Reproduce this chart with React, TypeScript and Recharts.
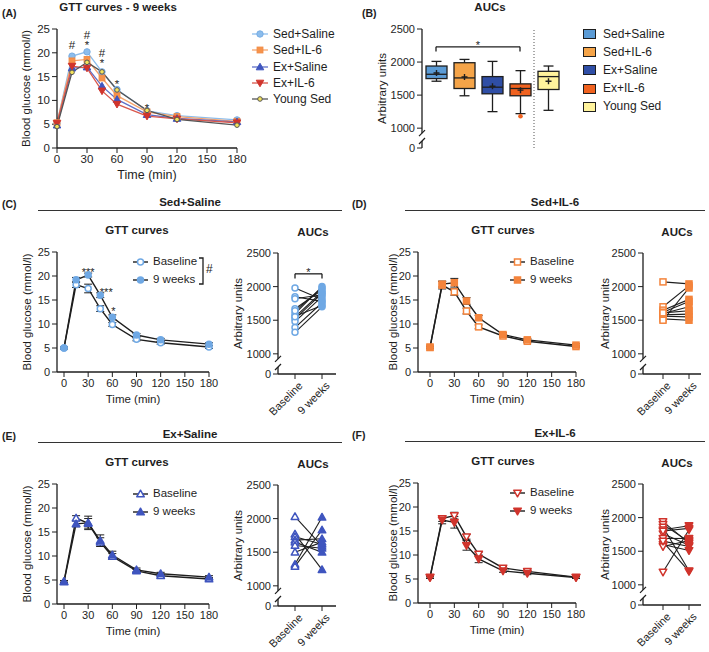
import React from 'react';
import { LineChart, Line, XAxis, YAxis, ComposedChart, Bar, ErrorBar, ReferenceLine, ReferenceDot } from 'recharts';

const FONT = '"Liberation Sans", Arial, Helvetica, sans-serif';
const INK = '#1e1e1e';
const AUC_FLOOR = 700; // value that sits on the "0" tick below the axis break

const TIMES = [0, 15, 30, 45, 60, 90, 120, 180];
const TIME_TICKS = [0, 30, 60, 90, 120, 150, 180];
const GLUCOSE_TICKS = [0, 5, 10, 15, 20, 25];
const AUC_TICKS = [AUC_FLOOR, 1000, 1500, 2000, 2500];
const PAIR_CATS = ['Baseline', '9 weeks'];

// (A) GTT curves after 9 weeks
const A_SED_SALINE = [5.2, 19.3, 20.2, 16.0, 12.3, 7.8, 6.8, 5.9];
const A_SED_IL6 = [5.3, 18.3, 18.6, 14.7, 11.0, 7.6, 6.6, 5.6];
const A_EX_SALINE = [4.8, 16.8, 17.0, 13.0, 10.2, 7.0, 6.2, 5.5];
const A_EX_IL6 = [5.2, 17.2, 16.8, 12.0, 9.2, 6.7, 6.1, 5.3];
const A_YOUNG_SED = [4.5, 15.9, 18.0, 16.0, 12.2, 7.9, 6.0, 4.8];
const A_MARKS = [
  { t: 15, y: 21.6, text: ['#'], dx: 0 },
  { t: 30, y: 22.9, text: ['#', '*'], dx: 0 },
  { t: 45, y: 19.1, text: ['#', '*'], dx: 0 },
  { t: 60, y: 13.9, text: ['*'], dx: 0 },
  { t: 90, y: 8.8, text: ['*'], dx: 0 },
];

// (B) AUC box plots
const B_GROUPS = ['Sed+Saline', 'Sed+IL-6', 'Ex+Saline', 'Ex+IL-6', 'Young Sed'];
const B_MIN = [1710, 1490, 1250, 1220, 1270];
const B_Q1 = [1750, 1600, 1520, 1490, 1585];
const B_MEDIAN = [1815, 1760, 1620, 1600, 1780];
const B_Q3 = [1940, 1990, 1780, 1670, 1860];
const B_MAX = [2010, 2040, 2010, 1870, 1940];
const B_MEAN = [1835, 1775, 1635, 1575, 1710];
const B_OUTLIER = [null, null, null, 1180, null];
const B_COLORS = ['#5b9bd5', '#f5a448', '#2f4ea6', '#f0621f', '#fff39c'];

// (C) Sed+Saline
const C_BASE = [5.0, 18.2, 17.4, 13.2, 9.9, 6.8, 6.1, 5.2];
const C_WK9 = [5.0, 19.2, 20.2, 16.0, 11.4, 7.7, 6.7, 5.8];
const C_BASE_ERR = [0.2, 0.6, 0.9, 0.6, 0.4, 0.3, 0.3, 0.3];
const C_WK9_ERR = [0.2, 0.5, 0.4, 0.5, 0.5, 0.3, 0.3, 0.3];
const C_AUC_BASE = [1980, 1850, 1820, 1670, 1600, 1560, 1520, 1480, 1390, 1320, 1640, 1550];
const C_AUC_WK9 = [1810, 1780, 1880, 1950, 2000, 1720, 1900, 1850, 1760, 1700, 1980, 1920];
const C_MARKS = [
  { t: 30, y: 21.3, text: ['***'], dx: 0 },
  { t: 45, y: 17.1, text: ['***'], dx: 6 },
  { t: 60, y: 13.1, text: ['*'], dx: 1 },
];

// (D) Sed+IL-6
const D_BASE = [5.1, 18.1, 16.7, 12.7, 9.4, 7.5, 6.4, 5.3];
const D_WK9 = [5.2, 18.3, 18.6, 14.8, 11.3, 7.8, 6.7, 5.6];
const D_BASE_ERR = [0.2, 0.8, 0.7, 0.6, 0.4, 0.3, 0.3, 0.2];
const D_WK9_ERR = [0.2, 0.6, 0.9, 0.7, 0.5, 0.4, 0.3, 0.3];
const D_AUC_BASE = [2070, 1700, 1650, 1620, 1600, 1580, 1560, 1520, 1500, 1610];
const D_AUC_WK9 = [2040, 2010, 1810, 1780, 1700, 1590, 1550, 1500, 1980, 1640];

// (E) Ex+Saline
const E_BASE = [4.7, 17.9, 16.8, 12.9, 9.9, 6.9, 5.9, 5.2];
const E_WK9 = [4.6, 16.7, 16.9, 13.2, 10.2, 7.1, 6.3, 5.6];
const E_BASE_ERR = [0.2, 0.5, 1.0, 0.9, 0.6, 0.3, 0.3, 0.3];
const E_WK9_ERR = [0.2, 0.6, 1.4, 1.2, 0.8, 0.4, 0.3, 0.3];
const E_AUC_BASE = [2030, 1770, 1730, 1680, 1650, 1600, 1500, 1320, 1290];
const E_AUC_WK9 = [1590, 1240, 1620, 1700, 1500, 1560, 1650, 2020, 1830];

// (F) Ex+IL-6
const F_BASE = [5.4, 17.6, 18.2, 13.8, 10.2, 7.3, 6.6, 5.4];
const F_WK9 = [5.3, 17.3, 16.8, 12.0, 9.2, 6.7, 6.2, 5.3];
const F_BASE_ERR = [0.2, 0.6, 0.7, 0.5, 0.4, 0.3, 0.3, 0.2];
const F_WK9_ERR = [0.2, 0.8, 1.2, 1.0, 0.8, 0.3, 0.3, 0.2];
const F_AUC_BASE = [1940, 1900, 1860, 1820, 1760, 1690, 1640, 1600, 1570, 1190, 1650, 1800];
const F_AUC_WK9 = [1620, 1640, 1210, 1880, 1590, 1690, 1200, 1510, 1660, 1820, 1570, 1840];

const TICK = { fontSize: 11, fill: INK };

function Marker({ kind, cx, cy, r, fill, stroke, sw = 1.2 }: any) {
  if (cx == null || cy == null) return null;
  if (kind === 'square') {
    return <rect x={cx - r} y={cy - r} width={2 * r} height={2 * r} fill={fill} stroke={stroke} strokeWidth={sw} />;
  }
  if (kind === 'triangle' || kind === 'down') {
    const h = r * 1.3;
    const s = kind === 'down' ? -1 : 1;
    const pts = `${cx},${cy - s * h} ${cx + h},${cy + s * h * 0.75} ${cx - h},${cy + s * h * 0.75}`;
    return <polygon points={pts} fill={fill} stroke={stroke} strokeWidth={sw} strokeLinejoin="round" />;
  }
  return <circle cx={cx} cy={cy} r={r} fill={fill} stroke={stroke} strokeWidth={sw} />;
}

function Txt({ x, y, children, size = 11, bold = false, anchor = 'middle' }: any) {
  return (
    <div
      style={{
        position: 'absolute', left: x, top: y, whiteSpace: 'nowrap', fontSize: size, lineHeight: 1,
        fontWeight: bold ? 'bold' : 'normal',
        transform: anchor === 'middle' ? 'translate(-50%, -50%)' : 'translate(0, -50%)',
      }}
    >
      {children}
    </div>
  );
}

// significance marks, stacked lines share one text element
const markShape = (lines: string[], dx = 0, size = 11, gap = 8.5) => (p: any) => (
  <text x={p.cx + dx} y={p.cy} textAnchor="middle" fontSize={size} fill={INK}>
    {lines.map((s, i) => (
      <tspan key={i} x={p.cx + dx} y={p.cy + (i - (lines.length - 1) / 2) * gap + (s.startsWith('*') ? 6 : 4)}>
        {s}
      </tspan>
    ))}
  </text>
);

// axis break drawn over the left axis of the AUC plots
function AxisBreak({ x, y1000, y0 }: any) {
  const a = y1000 + 5;
  const b = y0 - 7;
  return (
    <g>
      <rect x={x - 3} y={a} width={6} height={b - a} fill="#fff" />
      <line x1={x - 3} y1={a + 3} x2={x + 3} y2={a - 3} stroke={INK} strokeWidth={1.2} />
      <line x1={x - 3} y1={b + 3} x2={x + 3} y2={b - 3} stroke={INK} strokeWidth={1.2} />
    </g>
  );
}

const SERIES_A = [
  { key: 'ss', name: 'Sed+Saline', line: '#8cbdec', fill: '#8cbdec', stroke: '#78ade4', kind: 'circle', r: 3.2 },
  { key: 'sil', name: 'Sed+IL-6', line: '#f6a46c', fill: '#f7924a', stroke: '#f08a44', kind: 'square', r: 2.9 },
  { key: 'exs', name: 'Ex+Saline', line: '#5f70c8', fill: '#3f55bf', stroke: '#3f55bf', kind: 'triangle', r: 2.9 },
  { key: 'exil', name: 'Ex+IL-6', line: '#d9574c', fill: '#d0342c', stroke: '#d0342c', kind: 'down', r: 2.9 },
  { key: 'young', name: 'Young Sed', line: '#555555', fill: '#f4e35a', stroke: '#555555', kind: 'circle', r: 2.3 },
];

function PanelA() {
  const data = TIMES.map((t, i) => ({
    t, ss: A_SED_SALINE[i], sil: A_SED_IL6[i], exs: A_EX_SALINE[i], exil: A_EX_IL6[i], young: A_YOUNG_SED[i],
  }));
  return (
    <>
      <Txt x={2} y={13} bold size={10.5} anchor="start">(A)</Txt>
      <Txt x={118} y={8} bold size={11.5}>GTT curves - 9 weeks</Txt>
      <div style={{ position: 'absolute', left: 0, top: 0 }}>
        <LineChart width={250} height={190} data={data} margin={{ top: 29, right: 13, bottom: 11, left: 0 }}>
          <XAxis
            dataKey="t" type="number" domain={[0, 180]} ticks={TIME_TICKS} interval={0} height={31}
            tickSize={5} stroke={INK} axisLine={{ strokeWidth: 1.3 }} tick={{ fontSize: 11.5, fill: INK }}
            label={{ value: 'Time (min)', position: 'insideBottom', offset: 0, fontSize: 12.5, fill: INK }}
          />
          <YAxis
            type="number" domain={[0, 25]} ticks={GLUCOSE_TICKS} interval={0} width={57}
            tickSize={5} stroke={INK} axisLine={{ strokeWidth: 1.3 }} tick={{ fontSize: 11.5, fill: INK }}
            label={{ value: 'Blood glucose (mmol/l)', angle: -90, position: 'insideLeft', offset: 26, style: { textAnchor: 'middle' }, fontSize: 11.5, fill: INK }}
          />
          {SERIES_A.map((s) => (
            <Line
              key={s.key} dataKey={s.key} stroke={s.line} strokeWidth={1.3} isAnimationActive={false}
              dot={(p: any) => <Marker key={`${s.key}-${p.index}`} kind={s.kind} cx={p.cx} cy={p.cy} r={s.r} fill={s.fill} stroke={s.stroke} sw={1} />}
            />
          ))}
          {A_MARKS.map((m, i) => (
            <ReferenceDot key={`am${i}`} x={m.t} y={m.y} r={0} shape={markShape(m.text, m.dx, 11.5, 8.5)} />
          ))}
        </LineChart>
      </div>
      {SERIES_A.map((s, i) => {
        const y = 34 + i * 16.3;
        return (
          <React.Fragment key={s.key}>
            <svg style={{ position: 'absolute', left: 252, top: y - 5 }} width={16} height={10}>
              <line x1={0} x2={16} y1={5} y2={5} stroke={s.line} strokeWidth={1.3} />
              <Marker kind={s.kind} cx={8} cy={5} r={s.r} fill={s.fill} stroke={s.stroke} sw={1} />
            </svg>
            <Txt x={273} y={y} size={12} anchor="start">{s.name}</Txt>
          </React.Fragment>
        );
      })}
    </>
  );
}

function BoxShape(props: any) {
  const { x, y, width, height, payload } = props;
  if (x == null || payload == null) return null;
  const top = Math.min(y, y + height);
  const bot = Math.max(y, y + height);
  const span = payload.max - payload.min;
  const py = (v: number) => top + ((payload.max - v) / span) * (bot - top);
  const cx = x + width / 2;
  const color = B_COLORS[B_GROUPS.indexOf(payload.group)];
  const m = py(payload.mean);
  return (
    <g>
      <line x1={cx} x2={cx} y1={py(payload.max)} y2={py(payload.q3)} stroke={INK} strokeWidth={1.3} />
      <line x1={cx} x2={cx} y1={py(payload.q1)} y2={py(payload.min)} stroke={INK} strokeWidth={1.3} />
      <line x1={cx - 5} x2={cx + 5} y1={py(payload.max)} y2={py(payload.max)} stroke={INK} strokeWidth={1.3} />
      <line x1={cx - 5} x2={cx + 5} y1={py(payload.min)} y2={py(payload.min)} stroke={INK} strokeWidth={1.3} />
      <rect x={x} y={py(payload.q3)} width={width} height={py(payload.q1) - py(payload.q3)} fill={color} stroke={INK} strokeWidth={1.3} />
      <line x1={x} x2={x + width} y1={py(payload.median)} y2={py(payload.median)} stroke={INK} strokeWidth={1.3} />
      <path d={`M${cx - 3},${m} H${cx + 3} M${cx},${m - 3} V${m + 3}`} stroke={INK} strokeWidth={1.4} />
      {payload.outlier != null && <circle cx={cx} cy={py(payload.outlier)} r={2.3} fill={color} />}
    </g>
  );
}

function PanelB() {
  const data = B_GROUPS.map((g, i) => ({
    group: g, min: B_MIN[i], q1: B_Q1[i], median: B_MEDIAN[i], q3: B_Q3[i], max: B_MAX[i],
    mean: B_MEAN[i], outlier: B_OUTLIER[i], range: [B_MIN[i], B_MAX[i]],
  }));
  return (
    <>
      <Txt x={362} y={13} bold size={10.5} anchor="start">(B)</Txt>
      <Txt x={490} y={8} bold size={11.5}>AUCs</Txt>
      <div style={{ position: 'absolute', left: 350, top: 0 }}>
        <ComposedChart width={225} height={160} data={data} margin={{ top: 29, right: 13, bottom: 12, left: 0 }}>
          <XAxis dataKey="group" type="category" scale="band" hide />
          <YAxis
            type="number" domain={[AUC_FLOOR, 2500]} allowDataOverflow ticks={AUC_TICKS} interval={0} width={72}
            tickSize={5} stroke={INK} axisLine={{ strokeWidth: 1.3 }} tick={TICK}
            tickFormatter={(v: number) => (v === AUC_FLOOR ? '0' : String(v))}
            label={{ value: 'Arbitrary units', angle: -90, position: 'insideLeft', offset: 32, style: { textAnchor: 'middle' }, fontSize: 11.5, fill: INK }}
          />
          <ReferenceLine x="Ex+IL-6" position="end" stroke="#555" strokeDasharray="1 2" />
          <Bar dataKey="range" barSize={21} shape={BoxShape} isAnimationActive={false} />
          <ReferenceLine
            segment={[{ x: 'Sed+Saline', y: 2230 }, { x: 'Ex+IL-6', y: 2230 }]} stroke={INK} strokeWidth={1.3}
            label={{ value: '*', position: 'top', offset: -2, fontSize: 11, fill: INK }}
          />
          <ReferenceLine segment={[{ x: 'Sed+Saline', y: 2230 }, { x: 'Sed+Saline', y: 2160 }]} stroke={INK} strokeWidth={1.3} />
          <ReferenceLine segment={[{ x: 'Ex+IL-6', y: 2230 }, { x: 'Ex+IL-6', y: 2160 }]} stroke={INK} strokeWidth={1.3} />
        </ComposedChart>
      </div>
      <svg style={{ position: 'absolute', left: 0, top: 0 }} width={709} height={200}>
        <AxisBreak x={422} y1000={29 + (1500 / 1800) * 119} y0={148} />
      </svg>
      {B_GROUPS.map((g, i) => {
        const y = 33.5 + i * 18.2;
        return (
          <React.Fragment key={g}>
            <div style={{ position: 'absolute', left: 583, top: y - 4.5, width: 11, height: 8, background: B_COLORS[i], border: `1px solid ${INK}` }} />
            <Txt x={603} y={y} size={12} anchor="start">{g}</Txt>
          </React.Fragment>
        );
      })}
    </>
  );
}

const GEO_LEFT = {
  axisX: 57, zeroX: 64, x180: 209, yLabelX: 27, titleX: 137,
  aucAxis: 278, cat1: 295, cat2: 322, aucLabelX: 238, aucTitleX: 313,
  lineX1: 38, lineX2: 342, headX: 190, legX: 133, legTextX: 153,
};
const GEO_RIGHT = {
  axisX: 68, zeroX: 80, x180: 226, yLabelX: 43, titleX: 153,
  aucAxis: 293, cat1: 313, cat2: 339, aucLabelX: 255, aucTitleX: 327,
  lineX1: 55, lineX2: 355, headX: 205, legX: 160, legTextX: 180,
};

const PAIR_PANELS = [
  { letter: 'C', name: 'Sed+Saline', ox: 0, oy: 200, geo: GEO_LEFT, color: '#6fa8e4', kind: 'circle', r: 3,
    base: C_BASE, wk9: C_WK9, baseErr: C_BASE_ERR, wk9Err: C_WK9_ERR, aucBase: C_AUC_BASE, aucWk9: C_AUC_WK9, marks: C_MARKS, sig: true },
  { letter: 'D', name: 'Sed+IL-6', ox: 350, oy: 200, geo: GEO_RIGHT, color: '#f4843c', kind: 'square', r: 3,
    base: D_BASE, wk9: D_WK9, baseErr: D_BASE_ERR, wk9Err: D_WK9_ERR, aucBase: D_AUC_BASE, aucWk9: D_AUC_WK9, marks: [], sig: false },
  { letter: 'E', name: 'Ex+Saline', ox: 0, oy: 432, geo: GEO_LEFT, color: '#3f55bf', kind: 'triangle', r: 2.9,
    base: E_BASE, wk9: E_WK9, baseErr: E_BASE_ERR, wk9Err: E_WK9_ERR, aucBase: E_AUC_BASE, aucWk9: E_AUC_WK9, marks: [], sig: false },
  { letter: 'F', name: 'Ex+IL-6', ox: 350, oy: 431, geo: GEO_RIGHT, color: '#d0342c', kind: 'down', r: 2.9,
    base: F_BASE, wk9: F_WK9, baseErr: F_BASE_ERR, wk9Err: F_WK9_ERR, aucBase: F_AUC_BASE, aucWk9: F_AUC_WK9, marks: [], sig: false },
];

const GTT_W = 250;
const GTT_H = 230;
const GTT_TOP = 52;
const GTT_ZERO = 172;
const AUC_TOP = 53;
const AUC_ZERO = 174;

const SlantTick = ({ x, y, payload }: any) => (
  <g transform={`translate(${x + 3},${y})`}>
    <text textAnchor="end" transform="rotate(-45)" fontSize={11} fill={INK} dy="0.7em">{payload.value}</text>
  </g>
);

function PairPanel({ cfg }: any) {
  const g = cfg.geo;
  const open = (p: any, k: string) => (
    <Marker key={k} kind={cfg.kind} cx={p.cx} cy={p.cy} r={cfg.r} fill="#fff" stroke={cfg.color} sw={1.5} />
  );
  const filled = (p: any, k: string) => (
    <Marker key={k} kind={cfg.kind} cx={p.cx} cy={p.cy} r={cfg.r} fill={cfg.color} stroke={cfg.color} sw={1.5} />
  );
  const gtt = TIMES.map((t, i) => ({
    t, base: cfg.base[i], wk9: cfg.wk9[i], baseErr: cfg.baseErr[i], wk9Err: cfg.wk9Err[i],
  }));
  const auc = PAIR_CATS.map((cat, j) => {
    const row: any = { cat };
    const vals = j === 0 ? cfg.aucBase : cfg.aucWk9;
    vals.forEach((v: number, i: number) => { row[`m${i}`] = v; });
    return row;
  });
  const aucLeft = g.aucAxis - 78;
  const aucRight = g.aucAxis + 58;
  const y1000 = AUC_TOP + (1500 / (2500 - AUC_FLOOR)) * (AUC_ZERO - AUC_TOP);
  return (
    <div style={{ position: 'absolute', left: cfg.ox, top: cfg.oy, width: 350, height: 222 }}>
      <Txt x={2} y={4} bold size={10.5} anchor="start">({cfg.letter})</Txt>
      <Txt x={g.headX} y={3} bold size={11.5}>{cfg.name}</Txt>
      <div style={{ position: 'absolute', left: g.lineX1, top: 9.5, width: g.lineX2 - g.lineX1, height: 1.5, background: '#333' }} />
      <Txt x={g.titleX} y={31} bold size={11.5}>GTT curves</Txt>
      <Txt x={g.aucTitleX} y={33} bold size={11.5}>AUCs</Txt>

      <div style={{ position: 'absolute', left: 0, top: 0 }}>
        <LineChart width={GTT_W} height={GTT_H} data={gtt} margin={{ top: GTT_TOP, right: GTT_W - g.x180, bottom: GTT_H - GTT_ZERO - 31, left: 0 }}>
          <XAxis
            dataKey="t" type="number" domain={[0, 180]} ticks={TIME_TICKS} interval={0} height={31}
            padding={{ left: g.zeroX - g.axisX, right: 0 }}
            tickSize={5} stroke={INK} axisLine={{ strokeWidth: 1.3 }} tick={TICK}
            label={{ value: 'Time (min)', position: 'insideBottom', offset: 0, fontSize: 11.5, fill: INK }}
          />
          <YAxis
            type="number" domain={[0, 25]} ticks={GLUCOSE_TICKS} interval={0} width={g.axisX}
            tickSize={5} stroke={INK} axisLine={{ strokeWidth: 1.3 }} tick={TICK}
            label={{ value: 'Blood glucose (mmol/l)', angle: -90, position: 'insideLeft', offset: g.yLabelX, style: { textAnchor: 'middle' }, fontSize: 11.5, fill: INK }}
          />
          <Line dataKey="base" stroke={INK} strokeWidth={1.4} isAnimationActive={false} dot={(p: any) => open(p, `b${p.index}`)}>
            <ErrorBar dataKey="baseErr" width={4} stroke={INK} strokeWidth={1} direction="y" />
          </Line>
          <Line dataKey="wk9" stroke={INK} strokeWidth={1.4} isAnimationActive={false} dot={(p: any) => filled(p, `w${p.index}`)}>
            <ErrorBar dataKey="wk9Err" width={4} stroke={INK} strokeWidth={1} direction="y" />
          </Line>
          {cfg.marks.map((m: any, i: number) => (
            <ReferenceDot key={`cm${i}`} x={m.t} y={m.y} r={0} shape={markShape(m.text, m.dx, 11)} />
          ))}
        </LineChart>
      </div>

      <div style={{ position: 'absolute', left: aucLeft, top: 0 }}>
        <LineChart width={aucRight + 14 - aucLeft} height={240} data={auc} margin={{ top: AUC_TOP, right: 14, bottom: 240 - AUC_ZERO - 50, left: 0 }}>
          <XAxis
            dataKey="cat" type="category" scale="point" interval={0} height={50}
            padding={{ left: g.cat1 - g.aucAxis, right: aucRight - g.cat2 }}
            tickSize={5} stroke={INK} axisLine={{ strokeWidth: 1.3 }} tick={<SlantTick />}
          />
          <YAxis
            type="number" domain={[AUC_FLOOR, 2500]} allowDataOverflow ticks={AUC_TICKS} interval={0} width={78}
            tickSize={5} stroke={INK} axisLine={{ strokeWidth: 1.3 }} tick={TICK}
            tickFormatter={(v: number) => (v === AUC_FLOOR ? '0' : String(v))}
            label={{ value: 'Arbitrary units', angle: -90, position: 'insideLeft', offset: g.aucLabelX - aucLeft, style: { textAnchor: 'middle' }, fontSize: 11.5, fill: INK }}
          />
          {cfg.aucBase.map((_: number, i: number) => (
            <Line
              key={`m${i}`} dataKey={`m${i}`} stroke={INK} strokeWidth={1.1} isAnimationActive={false}
              dot={(p: any) => (p.index === 0 ? open(p, `a${i}-${p.index}`) : filled(p, `a${i}-${p.index}`))}
            />
          ))}
          {cfg.sig && (
            <ReferenceLine
              segment={[{ x: 'Baseline', y: 2190 }, { x: '9 weeks', y: 2190 }]} stroke={INK} strokeWidth={1.3}
              label={{ value: '*', position: 'top', offset: -2, fontSize: 11, fill: INK }}
            />
          )}
          {cfg.sig && <ReferenceLine segment={[{ x: 'Baseline', y: 2190 }, { x: 'Baseline', y: 2120 }]} stroke={INK} strokeWidth={1.3} />}
          {cfg.sig && <ReferenceLine segment={[{ x: '9 weeks', y: 2190 }, { x: '9 weeks', y: 2120 }]} stroke={INK} strokeWidth={1.3} />}
        </LineChart>
      </div>

      <svg style={{ position: 'absolute', left: 0, top: 0, overflow: 'visible' }} width={350} height={222}>
        <AxisBreak x={g.aucAxis} y1000={y1000} y0={AUC_ZERO} />
        {PAIR_CATS.map((name, i) => {
          const y = 62 + i * 18;
          const p = { cx: g.legX + 7.5, cy: y };
          return (
            <g key={name}>
              <line x1={g.legX} x2={g.legX + 15} y1={y} y2={y} stroke={INK} strokeWidth={1.4} />
              {i === 0 ? open(p, 'lo') : filled(p, 'lf')}
            </g>
          );
        })}
        {cfg.sig && (
          <g>
            <path d="M199,58 H203 V84 H199" fill="none" stroke={INK} strokeWidth={1.3} />
            <text x={206} y={73} fontSize={12} fill={INK}>#</text>
          </g>
        )}
      </svg>
      <Txt x={g.legTextX} y={62} size={11.5} anchor="start">Baseline</Txt>
      <Txt x={g.legTextX} y={80} size={11.5} anchor="start">9 weeks</Txt>
    </div>
  );
}

export default function App() {
  return (
    <div style={{ position: 'absolute', left: 0, top: 0, width: 709, height: 652, background: '#fff', fontFamily: FONT, color: INK }}>
      <PanelA />
      <PanelB />
      {PAIR_PANELS.map((p) => (
        <PairPanel key={p.letter} cfg={p} />
      ))}
    </div>
  );
}
